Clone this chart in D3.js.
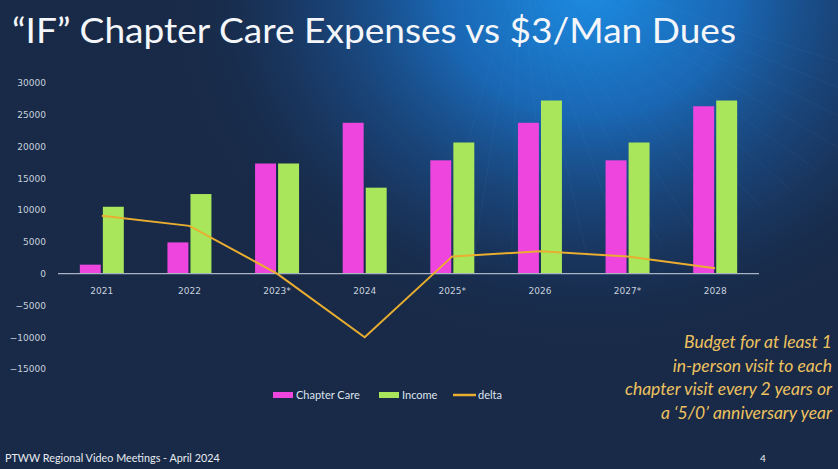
<!DOCTYPE html>
<html><head><meta charset="utf-8">
<script src="https://cdn.jsdelivr.net/npm/d3@7"></script>
<style>html,body{margin:0;padding:0;background:#182a48;overflow:hidden}</style>
</head><body>
<script>
const categories = ["2021","2022","2023*","2024","2025*","2026","2027*","2028"];
const chapterCare = [1400, 4900, 17300, 23700, 17800, 23700, 17800, 26300];
const income = [10500, 12500, 17300, 13500, 20600, 27200, 20600, 27200];
const delta = [9100, 7500, 0, -10000, 2700, 3500, 2700, 850];
const yTicks = [-15000,-10000,-5000,0,5000,10000,15000,20000,25000,30000];
const seriesNames = ["Chapter Care","Income","delta"];
const colors = {care:"#ee45df", income:"#a9e65b", delta:"#e9ad30"};

const W = 838, H = 469;
const svg = d3.select("body").append("svg").attr("width", W).attr("height", H);
const defs = svg.append("defs");
const rg = defs.append("radialGradient").attr("id","glow")
  .attr("gradientUnits","userSpaceOnUse").attr("cx",590).attr("cy",-10).attr("r",420)
  .attr("gradientTransform","translate(590,-10) scale(1,0.85) translate(-590,10)");
rg.append("stop").attr("offset","0").attr("stop-color","#1c8ce2").attr("stop-opacity",1);
rg.append("stop").attr("offset","0.35").attr("stop-color","#1a6ec0").attr("stop-opacity",0.9);
rg.append("stop").attr("offset","0.7").attr("stop-color","#1a4a86").attr("stop-opacity",0.5);
rg.append("stop").attr("offset","1").attr("stop-color","#182a48").attr("stop-opacity",0);
svg.append("rect").attr("width",W).attr("height",H).attr("fill","#182a48");
svg.append("rect").attr("width",W).attr("height",H).attr("fill","url(#glow)");

// faint streaks
const streaks = svg.append("g").attr("opacity",0.06).attr("stroke","#6fb6f0").attr("stroke-width",1);
for (let i = 0; i < 16; i++) {
  const a = -0.2 + i * 0.09;
  streaks.append("line").attr("x1",520).attr("y1",-40)
    .attr("x2",520 + Math.sin(a)*420).attr("y2",-40 + Math.cos(a)*300);
}

svg.append("text").attr("x",12).attr("y",43)
  .attr("font-family","Lato, 'Open Sans', sans-serif").attr("font-size",34)
  .attr("fill","#f4f6fa").attr("textLength",724).attr("lengthAdjust","spacingAndGlyphs")
  .text("\u201CIF\u201D Chapter Care Expenses vs $3/Man Dues");

const x0 = d3.scaleBand().domain(categories).range([58, 759]).padding(0);
const keys = ["care","income"];
const x1 = d3.scaleBand().domain(keys)
  .range([x0.bandwidth()*0.249, x0.bandwidth()*0.751]).paddingInner(0.09);
const y = d3.scaleLinear().domain([-15000, 30000]).range([369, 82.7]);

const yAxis = svg.append("g").attr("transform","translate(46,0)")
  .call(d3.axisLeft(y).tickValues(yTicks).tickSize(0).tickPadding(0).tickFormat(d3.format("d")));
yAxis.select(".domain").remove();
yAxis.selectAll("text").attr("fill","#c9d1dd").attr("font-size",9)
  .attr("font-family","'DejaVu Sans', sans-serif");

const rows = categories.map((c,i)=>({c, care:chapterCare[i], income:income[i]}));
const g = svg.append("g").selectAll("g").data(rows).join("g")
  .attr("transform", d => `translate(${x0(d.c)},0)`);
g.selectAll("rect").data(d => keys.map(k => ({k, v:d[k]}))).join("rect")
  .attr("x", d => x1(d.k)).attr("width", x1.bandwidth())
  .attr("y", d => y(Math.max(0,d.v))).attr("height", d => Math.abs(y(d.v)-y(0)))
  .attr("fill", d => colors[d.k]);

svg.append("line").attr("x1",58).attr("x2",759).attr("y1",y(0)).attr("y2",y(0))
  .attr("stroke","#a9b3c4").attr("stroke-width",1.2);

const xAxis = svg.append("g").attr("transform",`translate(0,${y(0)})`)
  .call(d3.axisBottom(x0).tickSize(0).tickPadding(14));
xAxis.select(".domain").remove();
xAxis.selectAll("text").attr("fill","#c9d1dd").attr("font-size",9)
  .attr("font-family","'DejaVu Sans', sans-serif");

const line = d3.line().x((d,i)=>x0(categories[i]) + x0.bandwidth()/2).y(d=>y(d));
svg.append("path").datum(delta).attr("d",line).attr("fill","none")
  .attr("stroke",colors.delta).attr("stroke-width",2);

// legend
const lg = svg.append("g").attr("font-family","Lato, 'Open Sans', sans-serif")
  .attr("font-size",11).attr("fill","#dfe5ee");
lg.append("rect").attr("x",273).attr("y",392).attr("width",20).attr("height",6).attr("fill",colors.care);
lg.append("text").attr("x",296).attr("y",399).text(seriesNames[0]);
lg.append("rect").attr("x",379).attr("y",392).attr("width",20).attr("height",6).attr("fill",colors.income);
lg.append("text").attr("x",402).attr("y",399).text(seriesNames[1]);
lg.append("line").attr("x1",453).attr("x2",476).attr("y1",395).attr("y2",395)
  .attr("stroke",colors.delta).attr("stroke-width",2.5);
lg.append("text").attr("x",478).attr("y",399).text(seriesNames[2]);

const note = ["Budget for at least 1","in-person visit to each","chapter visit every 2 years or","a \u20185/0\u2019 anniversary year"];
svg.append("g").selectAll("text").data(note).join("text")
  .attr("x",832).attr("y",(d,i)=>348 + i*23.5).attr("text-anchor","end")
  .attr("font-family","Lato, 'Open Sans', sans-serif").attr("font-style","italic")
  .attr("font-size",17.5).attr("fill","#eec25f").text(d=>d);

svg.append("text").attr("x",5).attr("y",462).attr("font-family","Lato, sans-serif")
  .attr("font-size",10.8).attr("fill","#e8ecf2").text("PTWW Regional Video Meetings - April 2024");
svg.append("text").attr("x",760).attr("y",462).attr("font-family","Lato, sans-serif")
  .attr("font-size",10).attr("fill","#e8ecf2").text("4");
</script>
</body></html>
